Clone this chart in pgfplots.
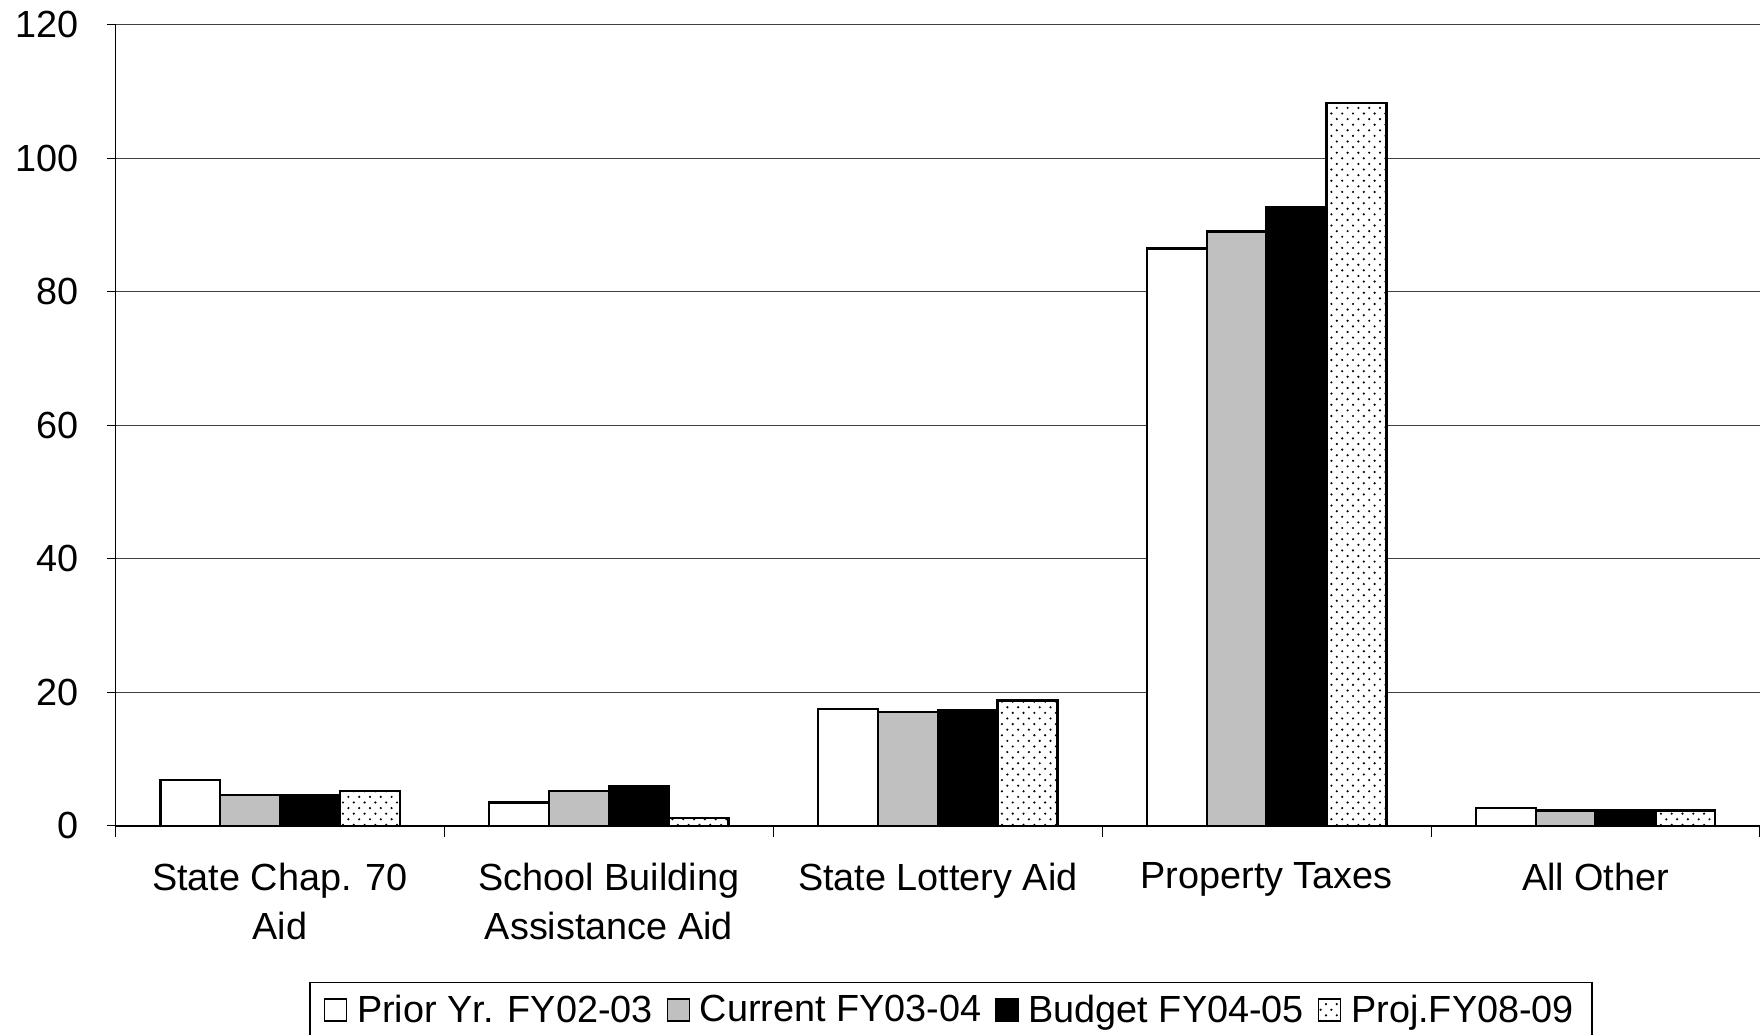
\documentclass[border=0pt]{standalone}
\usepackage{pgfplots}
\pgfplotsset{compat=1.18}
\usetikzlibrary{patterns}
\usepackage{fontspec}
\setmainfont{Liberation Sans}

\definecolor{barsilver}{HTML}{C0C0C0}
\definecolor{gridgray}{HTML}{404040}

% staggered dot fill for the projection bars
\pgfdeclarepatternformonly{sdots}{\pgfpoint{-0.5bp}{-0.5bp}}{\pgfpoint{6bp}{6bp}}{\pgfpoint{5.4bp}{5.6bp}}{%
  \pgfpathcircle{\pgfpoint{1.35bp}{1.4bp}}{0.6bp}%
  \pgfpathcircle{\pgfpoint{4.05bp}{4.2bp}}{0.6bp}%
  \pgfusepath{fill}}

\begin{document}
\begin{tikzpicture}
\useasboundingbox (-57.8bp,-104.5bp) rectangle (822bp,412.85bp);
\begin{axis}[
    scale only axis,
    width=822bp, height=400.5bp,
    font=\fontsize{18.9bp}{23bp}\selectfont,
    /pgf/number format/assume math mode=true,
    ybar, bar width=0.182,
    xmin=-0.5, xmax=4.5,
    ymin=0, ymax=120,
    ytick={0,20,...,120},
    xtick={0,1,2,3,4},
    xticklabels={{State Chap. 70\\Aid},{School Building\\Assistance Aid},{State Lottery Aid},{Property Taxes},{All Other}},
    xticklabel style={align=center, yshift=-10.5bp, font=\fontsize{18.9bp}{24.8bp}\selectfont},
    yticklabel style={xshift=-10.7bp},
    major x tick style={draw=none},
    minor xtick={-0.5,0.5,1.5,2.5,3.5,4.5},
    minor tick length=5.6bp,
    major tick length=4.5bp,
    tick align=outside,
    tick style={black, line width=0.6bp},
    ymajorgrids,
    grid style={gridgray, line width=0.6bp},
    axis x line*=bottom,
    axis y line*=left,
    axis line style={black, line width=0.7bp, -},
    legend columns=4,
    legend image code/.code={\draw[#1, line width=0.6bp] (0bp,-5.5bp) rectangle (11bp,5.5bp);},
    legend style={at={(0.508,-0.195)}, anchor=north, draw=black, line width=0.6bp,
      inner xsep=7bp, inner ysep=4bp,
      /tikz/every odd column/.append style={column sep=3bp},
      /tikz/every even column/.append style={column sep=5bp},
      font=\fontsize{18.9bp}{23bp}\selectfont},
  ]
  \addplot[draw=black, line width=1.2bp, fill=white, bar shift=-0.273] coordinates {
    (0,6.9) (1,3.5) (2,17.5) (3,86.5) (4,2.7)};
  \addplot[draw=black, line width=1.2bp, fill=barsilver, bar shift=-0.091] coordinates {
    (0,4.6) (1,5.2) (2,17.1) (3,89.0) (4,2.3)};
  \addplot[draw=black, line width=1.2bp, fill=black, bar shift=0.091] coordinates {
    (0,4.6) (1,5.9) (2,17.3) (3,92.7) (4,2.4)};
  \addplot[draw=black, line width=1.2bp, fill=white, postaction={pattern=sdots, pattern color=black}, bar shift=0.273] coordinates {
    (0,5.2) (1,1.2) (2,18.8) (3,108.3) (4,2.3)};
  \legend{Prior Yr. FY02-03, Current FY03-04, Budget FY04-05, Proj.FY08-09}
\end{axis}
\end{tikzpicture}
\end{document}
